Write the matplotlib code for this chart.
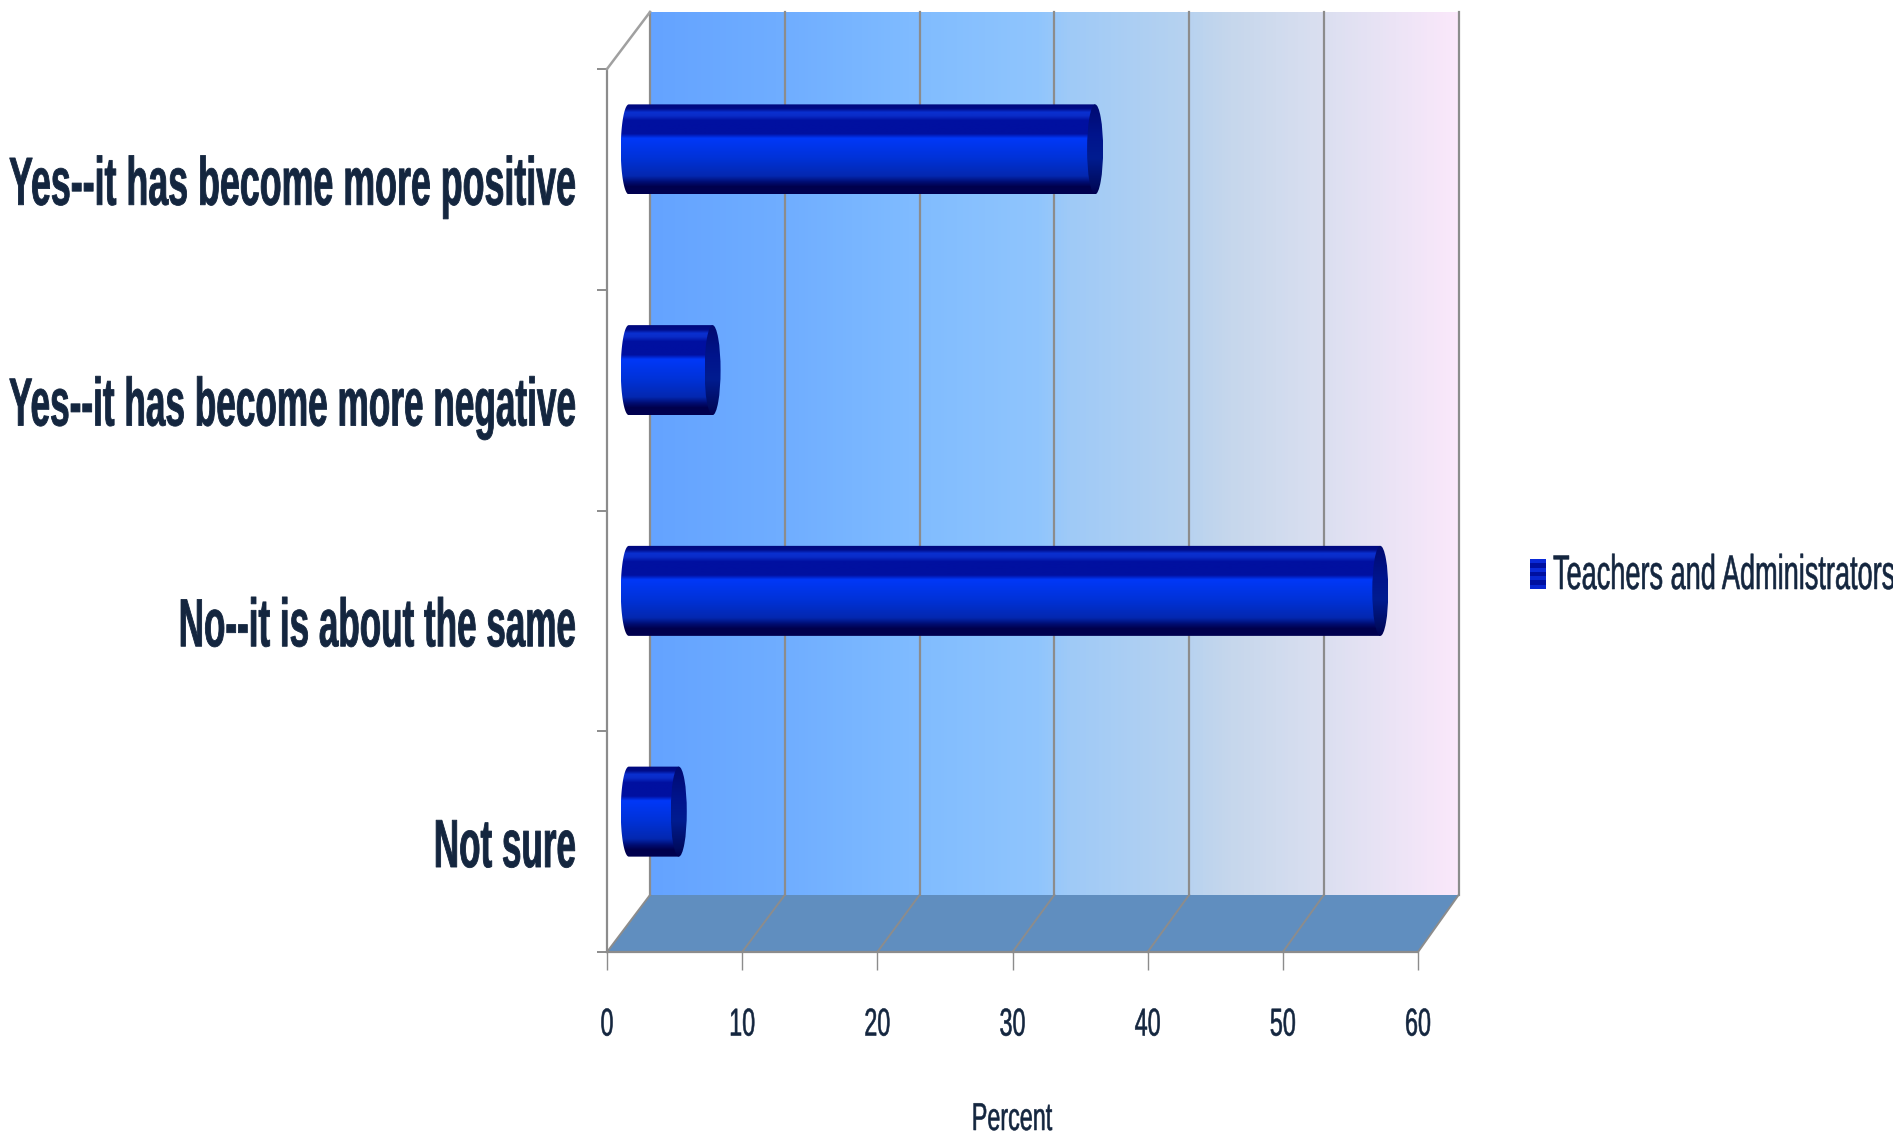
# -*- coding: utf-8 -*-
import numpy as np
import matplotlib
matplotlib.use('Agg')
import matplotlib.pyplot as plt
from matplotlib.colors import LinearSegmentedColormap
from matplotlib.patches import Ellipse, PathPatch, Polygon
from matplotlib.path import Path
from matplotlib.patheffects import AbstractPathEffect
from matplotlib.text import Text
from matplotlib.transforms import Affine2D, Bbox

categories = ['Yes--it has become more positive', 'Yes--it has become more negative',
              'No--it is about the same', 'Not sure']
values = [34.5, 6.2, 55.6, 3.7]
x_ticks = [0, 10, 20, 30, 40, 50, 60]
series_name = 'Teachers and Administrators'
x_title = 'Percent'

W, H = 1893, 1131
FONT = ['Liberation Sans', 'DejaVu Sans']
TEXT = '#14263f'
LINE = '#8c8c8c'
label_squeeze = [0.526, 0.517, 0.515, 0.515]


class Condense(AbstractPathEffect):
    # squeezes text horizontally around a fixed display x, since there is no narrow font
    def __init__(self, sx, anchor_x, stroke=0.0):
        super().__init__()
        self.sx = sx
        self.anchor_x = anchor_x
        self.stroke = stroke

    def draw_path(self, renderer, gc, tpath, affine, rgbFace=None):
        squeeze = affine + Affine2D().translate(-self.anchor_x, 0).scale(self.sx, 1).translate(self.anchor_x, 0)
        gc0 = renderer.new_gc()
        gc0.copy_properties(gc)
        if self.stroke > 0:
            gc0.set_linewidth(self.stroke)
            gc0.set_foreground(rgbFace)
        renderer.draw_path(gc0, tpath, squeeze, rgbFace)
        gc0.restore()


def condense(text, sx, anchor_x, stroke):
    # apply the effect and make the reported extent follow the squeezed glyphs
    text.set_path_effects([Condense(sx, anchor_x, stroke)])

    def extent(renderer=None, dpi=None):
        bb = Text.get_window_extent(text, renderer, dpi)
        x0 = anchor_x + (bb.x0 - anchor_x) * sx
        x1 = anchor_x + (bb.x1 - anchor_x) * sx
        return Bbox([[x0, bb.y0], [x1, bb.y1]])
    text.get_window_extent = extent


wall_cmap = LinearSegmentedColormap.from_list('wall', [
    (0.0, '#64a3ff'), (0.17, '#70aeff'), (0.33, '#80bcff'), (0.48, '#90c5fd'),
    (0.52, '#9fcaf7'), (0.66, '#b6d2f0'), (0.72, '#c6d7ec'), (0.83, '#dadff0'),
    (1.0, '#fbe8fb')])
bar_cmap = LinearSegmentedColormap.from_list('bar', [
    (0.0, '#00087c'), (0.05, '#000c88'), (0.09, '#0a30d0'), (0.13, '#0a2cc8'),
    (0.18, '#0010a0'), (0.33, '#0010a0'), (0.38, '#0038f8'), (0.6, '#0032d8'),
    (0.8, '#0428b0'), (0.87, '#000c70'), (0.92, '#00004c'), (1.0, '#000050')])
cap_cmap = LinearSegmentedColormap.from_list('cap', [
    (0.0, '#000a70'), (0.35, '#00148c'), (0.6, '#001c90'), (0.9, '#000c60'),
    (1.0, '#000050')])
grad = np.linspace(0, 1, 256)

fig = plt.figure(figsize=(W / 100, H / 100), dpi=100, facecolor='white')
ax = fig.add_axes([607 / W, 1 - 952 / H, (1418 - 607) / W, (952 - 69) / H])

# depth of the box, in data units
dx = 43 / ((1418 - 607) / 60)
dy = 57 / ((952 - 69) / 4)
back = 0.997  # the back wall is a touch shorter than the front edge
# bars sit halfway into the box
bar_dx = dx / 2 + 0.02
bar_dy = 30 / ((952 - 69) / 4)
bar_h = 90 / ((952 - 69) / 4)
cap_a = 8 / ((1418 - 607) / 60)

# back wall
ax.imshow(grad.reshape(1, -1), cmap=wall_cmap, aspect='auto', clip_on=False,
          extent=[dx, 60 * back + dx, 4 - dy, -dy], zorder=1)
# floor
ax.add_patch(Polygon([(0, 4), (60, 4), (60 * back + dx, 4 - dy), (dx, 4 - dy)], closed=True,
                     fc='#608ebf', ec='none', clip_on=False, zorder=2))

# grid lines on wall and floor
for t in x_ticks:
    ax.plot([t * back + dx, t * back + dx], [-dy, 4 - dy], color=LINE, lw=1.6, clip_on=False, zorder=3)
    ax.plot([t, t * back + dx], [4, 4 - dy], color=LINE, lw=1.4, clip_on=False, zorder=3)
ax.plot([0, dx], [0, -dy], color='#a0a0a0', lw=1.8, clip_on=False, zorder=3)

# cylinders
for i, v in enumerate(values):
    yc = i + 0.5 - bar_dy
    top, bot = yc - bar_h / 2, yc + bar_h / 2
    t = np.linspace(np.pi / 2, 3 * np.pi / 2, 40)
    xs = bar_dx + cap_a * np.cos(t)
    ys = yc + bar_h / 2 * -np.sin(t)
    verts = list(zip(xs, ys)) + [(bar_dx + v, bot), (bar_dx + v, top)]
    body = PathPatch(Path(verts + [verts[0]]), transform=ax.transData, fc='none', ec='none')
    ax.add_patch(body)
    im = ax.imshow(grad.reshape(-1, 1), cmap=bar_cmap, aspect='auto',
                   extent=[bar_dx - cap_a, bar_dx + v, bot, top], zorder=4, clip_on=True)
    im.set_clip_path(body)
    end = Ellipse((bar_dx + v, yc), 2 * cap_a, bar_h, transform=ax.transData,
                  fc='none', ec='none')
    ax.add_patch(end)
    im2 = ax.imshow(grad.reshape(-1, 1), cmap=cap_cmap, aspect='auto',
                    extent=[bar_dx + v - cap_a, bar_dx + v + cap_a, bot, top], zorder=5)
    im2.set_clip_path(end)

ax.set_xlim(0, 60)
ax.set_ylim(4, 0)
ax.patch.set_alpha(0)
for s in ['top', 'right']:
    ax.spines[s].set_visible(False)
for s in ['left', 'bottom']:
    ax.spines[s].set_color(LINE)
    ax.spines[s].set_linewidth(1.6)

ax.set_xticks(x_ticks)
ax.set_xticklabels([str(t) for t in x_ticks], family=FONT, fontsize=28, color=TEXT)
ax.tick_params(axis='x', length=13, width=1, color=LINE, pad=27)
for t, lab in zip(x_ticks, ax.get_xticklabels()):
    condense(lab, 0.6, ax.transData.transform((t, 4))[0], 0.4)
ax.set_yticks(range(5))
ax.set_yticklabels([])
ax.tick_params(axis='y', which='major', length=7, width=1.4, color=LINE)

# category labels, right edge 31 px left of the axis, baseline 25 px under the band centre
for i, name in enumerate(categories):
    lab = ax.annotate(name, xy=(0, i + 0.5), xytext=(-31, -25.4), textcoords='offset pixels',
                      ha='right', va='baseline', family=FONT, fontsize=49, fontweight='bold',
                      color=TEXT, annotation_clip=False)
    condense(lab, label_squeeze[i], 576, 0.6)

title = fig.text(1012 / W, 1 - 1130 / H, x_title, family=FONT, fontsize=28, color=TEXT,
                 ha='center', va='baseline')
condense(title, 0.6, 1012, 0.4)

# legend swatch and label, running off the right edge
lax = fig.add_axes([1530 / W, 1 - 589 / H, 16 / W, 30 / H])
lax.imshow(np.array([0.1, 0.9, 0.1, 0.9, 0.2, 0.9, 0.2]).reshape(-1, 1), aspect='auto',
           cmap=LinearSegmentedColormap.from_list('sw', ['#0a2ad8', '#0010a0']))
lax.axis('off')
legend_label = fig.text(1553 / W, 1 - 589 / H, series_name, family=FONT, fontsize=35, color=TEXT,
                        ha='left', va='baseline')
condense(legend_label, 0.558, 1553, 0.4)

fig.savefig('out.png', dpi=100, facecolor='white')
